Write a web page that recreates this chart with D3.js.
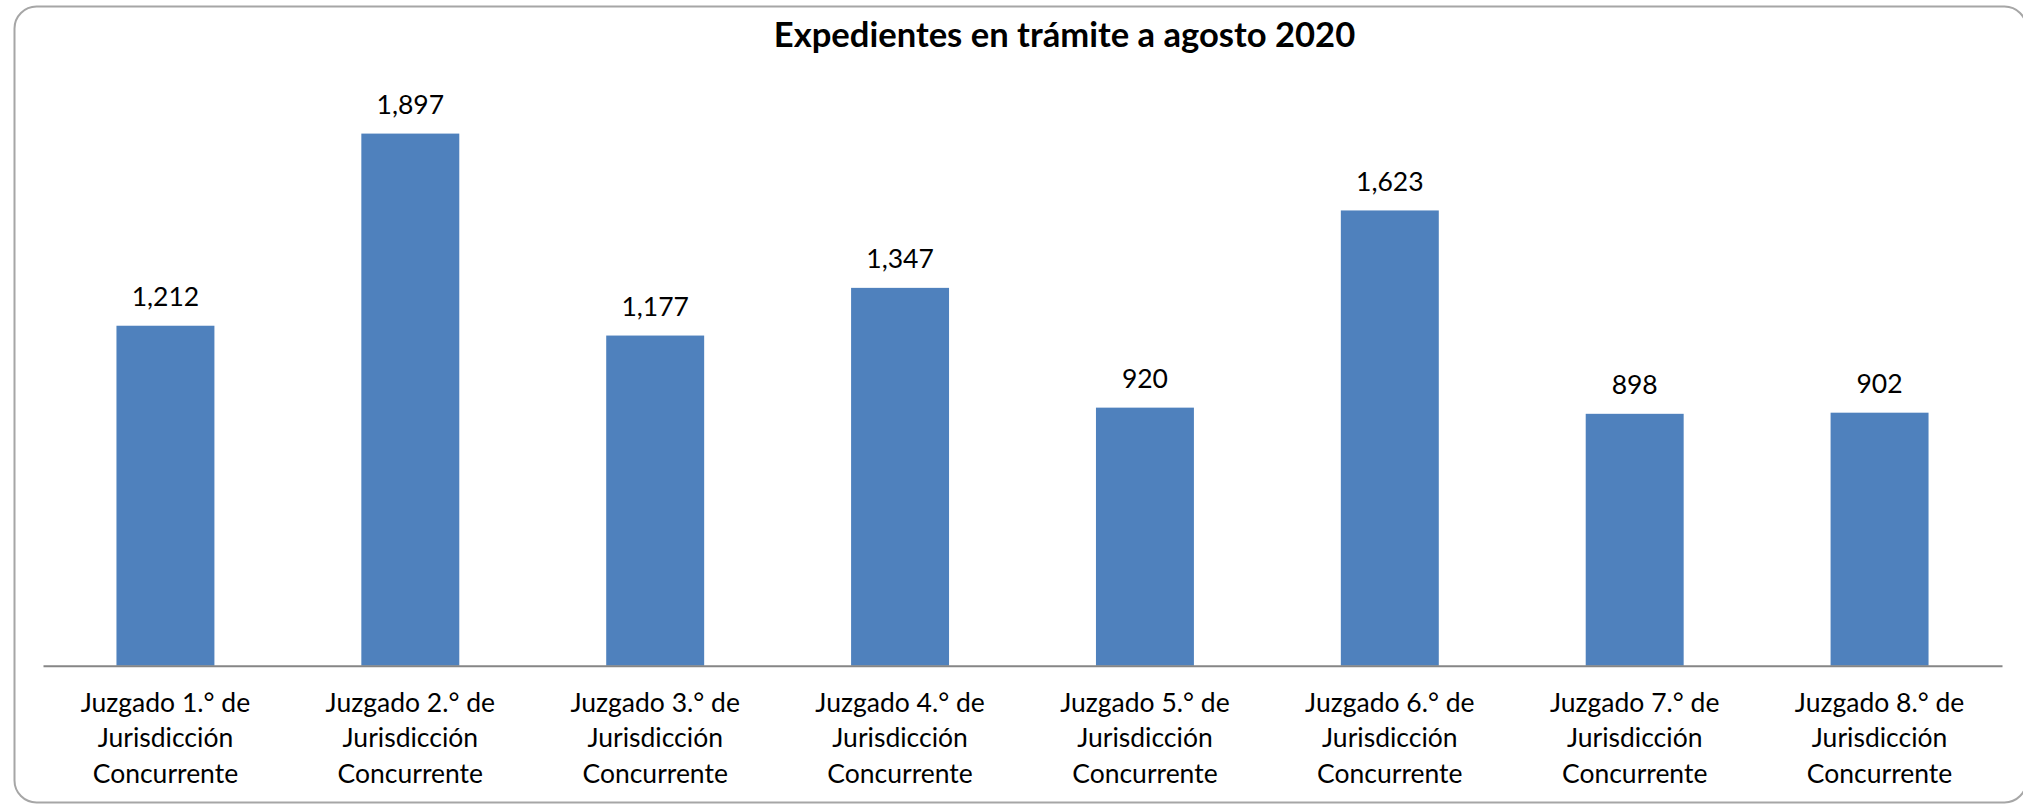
<!DOCTYPE html>
<html>
<head>
<meta charset="utf-8">
<script src="https://cdn.jsdelivr.net/npm/d3@7"></script>
<style>
  html, body { margin: 0; padding: 0; background: #fff; }
  svg { display: block; }
  text { font-family: Lato, "Open Sans", sans-serif; fill: #000; }
</style>
</head>
<body>
<svg id="chart" width="2023" height="805"></svg>
<script>
const title = "Expedientes en trámite a agosto 2020";
const categories = [
  ["Juzgado 1.° de", "Jurisdicción", "Concurrente"],
  ["Juzgado 2.° de", "Jurisdicción", "Concurrente"],
  ["Juzgado 3.° de", "Jurisdicción", "Concurrente"],
  ["Juzgado 4.° de", "Jurisdicción", "Concurrente"],
  ["Juzgado 5.° de", "Jurisdicción", "Concurrente"],
  ["Juzgado 6.° de", "Jurisdicción", "Concurrente"],
  ["Juzgado 7.° de", "Jurisdicción", "Concurrente"],
  ["Juzgado 8.° de", "Jurisdicción", "Concurrente"]
];
const values = [1212, 1897, 1177, 1347, 920, 1623, 898, 902];
const yDomain = [0, 2000];

const svg = d3.select("#chart");

// outer chart border
svg.append("rect")
  .attr("x", 14.5).attr("y", 6.5)
  .attr("width", 2012).attr("height", 796)
  .attr("rx", 22).attr("ry", 22)
  .attr("fill", "#fff")
  .attr("stroke", "#a6a6a6")
  .attr("stroke-width", 2);

const plot = { left: 43, right: 2002, top: 104.7, bottom: 665.7 };

const keys = categories.map((c, i) => i);
const x = d3.scaleBand()
  .domain(keys)
  .range([plot.left, plot.right])
  .paddingInner(0.6)
  .paddingOuter(0.3);

const y = d3.scaleLinear().domain(yDomain).range([plot.bottom, plot.top]);

// bars
svg.append("g").selectAll("rect")
  .data(values)
  .join("rect")
  .attr("x", (d, i) => x(i))
  .attr("y", d => y(d))
  .attr("width", x.bandwidth())
  .attr("height", d => y(0) - y(d))
  .attr("fill", "#4f81bd");

// value labels
const fmt = d3.format(",");
svg.append("g").selectAll("text")
  .data(values)
  .join("text")
  .attr("x", (d, i) => x(i) + x.bandwidth() / 2)
  .attr("y", d => y(d) - 19.5)
  .attr("text-anchor", "middle")
  .attr("font-size", 26.5)
  .text(d => fmt(d));

// x axis
const xAxis = d3.axisBottom(x).tickSize(0).tickFormat("");
const gx = svg.append("g")
  .attr("transform", `translate(0,${plot.bottom})`)
  .call(xAxis);
gx.select(".domain").attr("stroke", "#868686").attr("stroke-width", 2);

// category labels
const lab = svg.append("g").selectAll("text")
  .data(categories)
  .join("text")
  .attr("text-anchor", "middle")
  .attr("font-size", 26.5)
  .attr("x", (d, i) => x(i) + x.bandwidth() / 2)
  .attr("y", 711.5);
lab.selectAll("tspan")
  .data(d => d)
  .join("tspan")
  .attr("x", function() { return this.parentNode.getAttribute("x"); })
  .attr("dy", (d, j) => j === 0 ? 0 : 35.6)
  .text(d => d);

// title
svg.append("text")
  .attr("x", 1064.5)
  .attr("y", 46.5)
  .attr("text-anchor", "middle")
  .attr("font-size", 34.6)
  .attr("font-weight", "bold")
  .text(title);
</script>
</body>
</html>
